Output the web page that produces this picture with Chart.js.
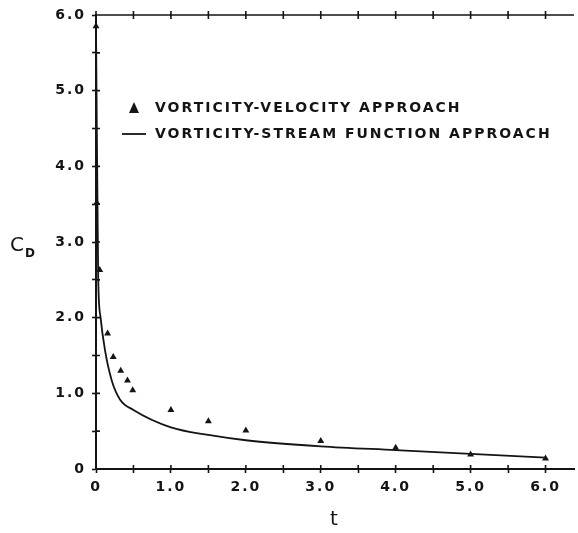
<!DOCTYPE html>
<html>
<head>
<meta charset="utf-8">
<script src="https://cdn.jsdelivr.net/npm/chart.js@4"></script>
<style>
  html, body { margin: 0; padding: 0; background: #fff; }
  #wrap { width: 578px; height: 533px; }
</style>
</head>
<body>
<div id="wrap"><canvas id="dragChart"></canvas></div>
<script>
// vorticity-velocity approach (triangles)
const velocityT  = [0, 0.01, 0.05, 0.155, 0.23, 0.33, 0.42, 0.49, 1.0, 1.5, 2.0, 3.0, 4.0, 5.0, 6.0];
const velocityCd = [5.85, 3.52, 2.63, 1.79, 1.48, 1.30, 1.17, 1.04, 0.78, 0.63, 0.51, 0.37, 0.28, 0.19, 0.14];

// vorticity-stream function approach (line)
const streamT  = [0, 0.01, 0.02, 0.03, 0.06, 0.12, 0.21, 0.32, 0.5, 1.0, 1.5, 2.0, 3.0, 4.0, 5.0, 6.0];
const streamCd = [5.85, 4.6, 3.5, 2.5, 2.01, 1.57, 1.17, 0.92, 0.78, 0.55, 0.45, 0.38, 0.30, 0.25, 0.20, 0.15];

// tick positions (every 0.5) and the labels on the whole ones
const xTickValues = [0, 0.5, 1, 1.5, 2, 2.5, 3, 3.5, 4, 4.5, 5, 5.5, 6];
const yTickValues = [0, 0.5, 1, 1.5, 2, 2.5, 3, 3.5, 4, 4.5, 5, 5.5, 6];
const xTickLabels = ["0", "1.0", "2.0", "3.0", "4.0", "5.0", "6.0"];
const yTickLabels = ["0", "1.0", "2.0", "3.0", "4.0", "5.0", "6.0"];

const legendLabels = ["VORTICITY-VELOCITY APPROACH", "VORTICITY-STREAM FUNCTION APPROACH"];

const INK = "#141414";
const tickFont = { family: "DejaVu Sans", size: 14, weight: "bold" };

function tickLabel(labels) {
  return v => Number.isInteger(v) && labels[v] !== undefined ? labels[v] : "";
}

function fixedTicks(values) {
  return s => { s.ticks = values.map(v => ({ value: v })); };
}

// wide lettering like the original
const spacing = {
  id: "spacing",
  beforeUpdate(chart) { chart.ctx.letterSpacing = "2px"; },
  beforeDraw(chart) { chart.ctx.letterSpacing = "2px"; }
};

// inner tick marks, top frame, y title and legend
const extras = {
  id: "extras",
  afterDraw(chart) {
    const { ctx, chartArea: a, scales: { x, y } } = chart;
    ctx.save();
    ctx.strokeStyle = INK;
    ctx.lineWidth = 1.6;
    ctx.beginPath();
    ctx.moveTo(a.left, a.top);
    ctx.lineTo(a.right, a.top);
    x.ticks.forEach(t => {
      const px = x.getPixelForValue(t.value);
      ctx.moveTo(px, a.bottom - 4); ctx.lineTo(px, a.bottom);
      ctx.moveTo(px, a.top - 4); ctx.lineTo(px, a.top + 4);
    });
    y.ticks.forEach(t => {
      const py = y.getPixelForValue(t.value);
      ctx.moveTo(a.left, py); ctx.lineTo(a.left + 4, py);
    });
    ctx.stroke();

    // y title C_D
    ctx.fillStyle = INK;
    ctx.letterSpacing = "0px";
    ctx.textBaseline = "alphabetic";
    ctx.textAlign = "left";
    ctx.font = "20px 'DejaVu Sans'";
    ctx.fillText("C", 10, 251);
    ctx.font = "bold 12px 'DejaVu Sans'";
    ctx.fillText("D", 25, 257);

    // legend
    const lx = a.left + 38, ly1 = a.top + 93, ly2 = a.top + 119;
    ctx.beginPath();
    ctx.moveTo(lx, ly1 - 6);
    ctx.lineTo(lx + 5, ly1 + 5);
    ctx.lineTo(lx - 5, ly1 + 5);
    ctx.closePath();
    ctx.fill();
    ctx.lineWidth = 1.8;
    ctx.beginPath();
    ctx.moveTo(a.left + 26, ly2);
    ctx.lineTo(a.left + 50, ly2);
    ctx.stroke();
    ctx.letterSpacing = "2px";
    ctx.font = "bold 14px 'DejaVu Sans'";
    ctx.textBaseline = "middle";
    ctx.fillText(chart.data.datasets[0].label, a.left + 59, ly1);
    ctx.fillText(chart.data.datasets[1].label, a.left + 59, ly2);
    ctx.restore();
  }
};

new Chart(document.getElementById("dragChart"), {
  type: "line",
  data: {
    datasets: [
      {
        label: legendLabels[0],
        data: velocityT.map((t, i) => ({ x: t, y: velocityCd[i] })),
        showLine: false,
        pointStyle: "triangle",
        pointRadius: 4,
        backgroundColor: INK,
        borderColor: INK,
        borderWidth: 0,
        clip: false
      },
      {
        label: legendLabels[1],
        data: streamT.map((t, i) => ({ x: t, y: streamCd[i] })),
        borderColor: INK,
        borderWidth: 1.8,
        pointRadius: 0,
        cubicInterpolationMode: "monotone",
        fill: false,
        clip: false
      }
    ]
  },
  options: {
    responsive: true,
    maintainAspectRatio: false,
    animation: false,
    layout: { padding: { top: 15, right: 0, left: 0, bottom: 0 } },
    plugins: { legend: { display: false }, tooltip: { enabled: false } },
    scales: {
      x: {
        type: "linear",
        min: 0,
        max: 6.38,
        border: { color: INK, width: 2 },
        grid: { drawOnChartArea: false, tickLength: 4, tickWidth: 1.6, color: INK },
        afterBuildTicks: fixedTicks(xTickValues),
        ticks: {
          autoSkip: false,
          maxRotation: 0,
          padding: 6,
          color: INK,
          font: tickFont,
          callback: tickLabel(xTickLabels)
        },
        title: {
          display: true,
          text: "t",
          color: INK,
          font: { family: "DejaVu Sans", size: 20 },
          padding: { top: 0, bottom: 1 }
        },
        afterFit: s => { s.height = 64; }
      },
      y: {
        min: 0,
        max: 6,
        border: { color: INK, width: 2 },
        grid: { drawOnChartArea: false, tickLength: 4, tickWidth: 1.6, color: INK },
        afterBuildTicks: fixedTicks(yTickValues),
        ticks: {
          autoSkip: false,
          padding: 6,
          color: INK,
          font: tickFont,
          callback: tickLabel(yTickLabels)
        },
        afterFit: s => { s.width = 96; }
      }
    }
  },
  plugins: [spacing, extras]
});
</script>
</body>
</html>
